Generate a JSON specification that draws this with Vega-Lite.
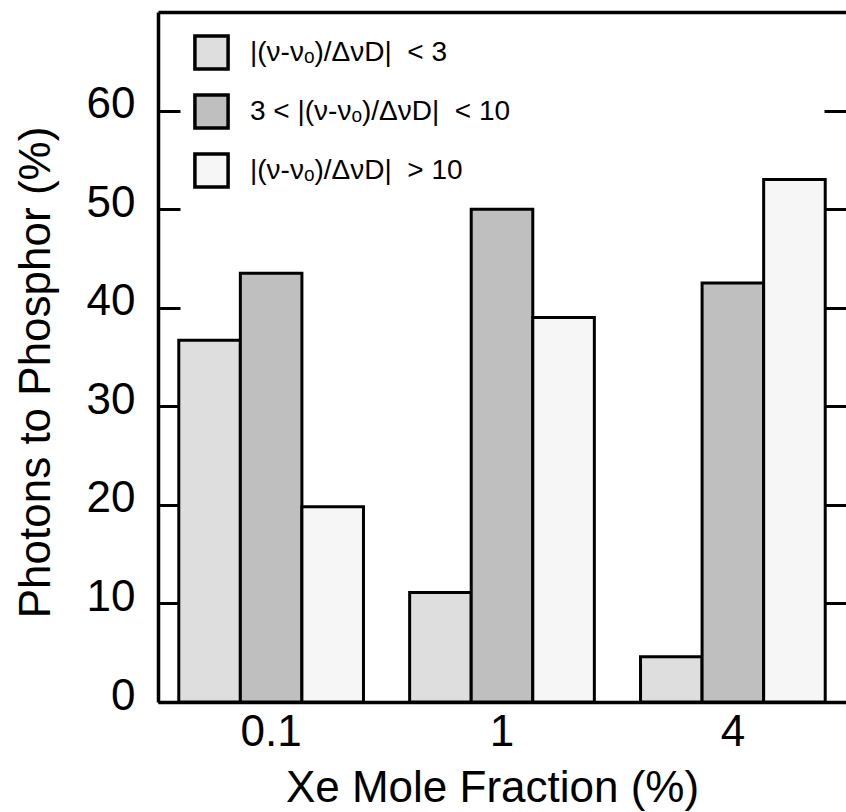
{
  "$schema": "https://vega.github.io/schema/vega-lite/v6.json",
  "width": 688,
  "height": 690,
  "autosize": {"type": "none"},
  "padding": {"left": 158, "top": 12, "right": 0, "bottom": 110},
  "background": "white",
  "config": {
    "view": {"stroke": null},
    "font": "Liberation Sans",
    "axis": {"grid": false, "labelColor": "black", "titleColor": "black", "domainColor": "black", "tickColor": "black", "labelFont": "Liberation Sans", "titleFont": "Liberation Sans", "titleFontWeight": "normal"}
  },
  "data": {
    "values": [
      {"frac": "0.1", "cat": "|(ν-νₒ)/ΔνD|\u00a0 < 3", "pct": 36.7},
      {"frac": "0.1", "cat": "3 < |(ν-νₒ)/ΔνD|\u00a0 < 10", "pct": 43.5},
      {"frac": "0.1", "cat": "|(ν-νₒ)/ΔνD|\u00a0 > 10", "pct": 19.8},
      {"frac": "1", "cat": "|(ν-νₒ)/ΔνD|\u00a0 < 3", "pct": 11.1},
      {"frac": "1", "cat": "3 < |(ν-νₒ)/ΔνD|\u00a0 < 10", "pct": 50.0},
      {"frac": "1", "cat": "|(ν-νₒ)/ΔνD|\u00a0 > 10", "pct": 39.0},
      {"frac": "4", "cat": "|(ν-νₒ)/ΔνD|\u00a0 < 3", "pct": 4.6},
      {"frac": "4", "cat": "3 < |(ν-νₒ)/ΔνD|\u00a0 < 10", "pct": 42.5},
      {"frac": "4", "cat": "|(ν-νₒ)/ΔνD|\u00a0 > 10", "pct": 53.0}
    ]
  },
  "layer": [
    {
      "mark": {"type": "bar", "stroke": "black", "strokeWidth": 3},
      "encoding": {
        "x": {"field": "frac", "type": "nominal", "sort": ["0.1", "1", "4"],
          "scale": {"paddingInner": 0.2, "paddingOuter": 0.09},
          "axis": {"orient": "bottom", "ticks": false, "labelAngle": 0, "labelFontSize": 44, "labelPadding": 8, "domainWidth": 3.5, "title": "Xe Mole Fraction (%)", "titleFontSize": 44, "titlePadding": 12, "titleX": 334}},
        "xOffset": {"field": "cat", "type": "nominal", "sort": ["|(ν-νₒ)/ΔνD|\u00a0 < 3", "3 < |(ν-νₒ)/ΔνD|\u00a0 < 10", "|(ν-νₒ)/ΔνD|\u00a0 > 10"], "scale": {"paddingInner": 0, "paddingOuter": 0}},
        "y": {"field": "pct", "type": "quantitative", "scale": {"domain": [0, 70], "nice": false},
          "axis": {"orient": "left", "values": [0, 10, 20, 30, 40, 50, 60], "tickSize": -22, "tickWidth": 3, "domainWidth": 3.5, "labelFontSize": 44, "labelPadding": 45, "labelOffset": -6, "title": "Photons to Phosphor (%)", "titleFontSize": 44, "titlePadding": 28, "titleY": 360}},
        "fill": {"field": "cat", "type": "nominal", "sort": ["|(ν-νₒ)/ΔνD|\u00a0 < 3", "3 < |(ν-νₒ)/ΔνD|\u00a0 < 10", "|(ν-νₒ)/ΔνD|\u00a0 > 10"],
          "scale": {"range": ["#dedede", "#bfbfbf", "#f6f6f6"]},
          "legend": {"orient": "none", "legendX": 35, "legendY": 22, "title": null, "symbolType": "square", "symbolSize": 1100, "symbolStrokeColor": "black", "symbolStrokeWidth": 3.5, "symbolOpacity": 1, "labelFontSize": 28, "labelFont": "Liberation Sans", "labelColor": "black", "rowPadding": 10, "labelOffset": 20, "padding": 0, "labelLimit": 500}}
      }
    },
    {
      "mark": {"type": "bar", "opacity": 0},
      "encoding": {
        "x": {"field": "frac", "type": "nominal", "sort": ["0.1", "1", "4"],
          "axis": {"orient": "top", "ticks": false, "labels": false, "title": null, "domainWidth": 3.5}},
        "xOffset": {"field": "cat", "type": "nominal", "sort": ["|(ν-νₒ)/ΔνD|\u00a0 < 3", "3 < |(ν-νₒ)/ΔνD|\u00a0 < 10", "|(ν-νₒ)/ΔνD|\u00a0 > 10"]},
        "y": {"field": "pct", "type": "quantitative",
          "axis": {"orient": "right", "values": [10, 20, 30, 40, 50, 60], "tickSize": -22, "tickWidth": 3, "labels": false, "domain": false, "title": null}}
      }
    }
  ],
  "resolve": {"axis": {"x": "independent", "y": "independent"}}
}
